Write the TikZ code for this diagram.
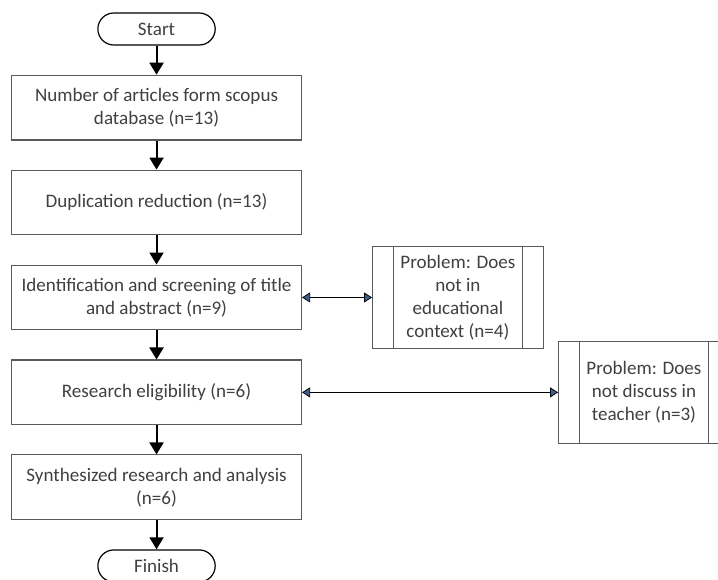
\documentclass[tikz,border=0pt]{standalone}
\usepackage{fontspec}
\setmainfont{Carlito}
\usetikzlibrary{positioning,arrows.meta}
\definecolor{boxline}{HTML}{5A5A5A}
\definecolor{txt}{HTML}{404040}
\definecolor{headblue}{HTML}{3B5E91}
\tikzstyle{terminal} = [draw=black, rectangle, rounded corners=12pt, minimum width=88pt, minimum height=24pt, text=txt, line width=0.9pt]
\tikzstyle{process} = [draw=boxline, rectangle, minimum width=217.5pt, minimum height=48.6pt, align=center, text=txt, line width=0.8pt]
\tikzstyle{problem} = [draw=boxline, rectangle, minimum width=128pt, minimum height=77pt, align=center, text=txt, line width=0.8pt,
    path picture={
        \draw [boxline, line width=0.8pt] ([xshift=15.75pt]path picture bounding box.north west) -- ([xshift=15.75pt]path picture bounding box.south west);
        \draw [boxline, line width=0.8pt] ([xshift=-15.75pt]path picture bounding box.north east) -- ([xshift=-15.75pt]path picture bounding box.south east);
    }]
\tikzstyle{line} = [draw, line width=1.5pt, -{Triangle[length=9pt, width=10.5pt]}]
\tikzstyle{both} = [draw, line width=1.3pt, {Triangle[length=6pt, width=7.5pt, line width=0.6pt, fill=headblue]}-{Triangle[length=6pt, width=7.5pt, line width=0.6pt, fill=headblue]}]

\begin{document}
\begin{tikzpicture}[node distance = 21.8pt, font=\fontsize{14.3}{17.25}\selectfont]
    % Place nodes
    \node [terminal] (start) {Start};
    \useasboundingbox ([shift={(-117.4pt,21.75pt)}]start.center) rectangle ++(538.5pt,-434.25pt);
    \node [process, below=of start] (articles) {Number of articles form scopus\\database (n=13)};
    \node [process, below=of articles] (dupl) {Duplication reduction (n=13)};
    \node [process, below=of dupl] (screen) {Identification and screening of title\\and abstract (n=9)};
    \node [process, below=of screen] (elig) {Research eligibility (n=6)};
    \node [process, below=of elig] (synth) {Synthesized research and analysis\\(n=6)};
    \node [terminal, below=of synth] (finish) {Finish};
    \node [problem, right=52.5pt of screen] (context) {Problem: Does\\not in\\educational\\context (n=4)};
    \node [problem, right=192pt of elig] (teacher) {Problem: Does\\not discuss in\\teacher (n=3)};
    % Draw edges
    \path [line] (start) -- (articles);
    \path [line] (articles) -- (dupl);
    \path [line] (dupl) -- (screen);
    \path [line] (screen) -- (elig);
    \path [line] (elig) -- (synth);
    \path [line] (synth) -- (finish);
    \path [both] (screen) -- (context);
    \path [both] (elig) -- (teacher);
\end{tikzpicture}
\end{document}
